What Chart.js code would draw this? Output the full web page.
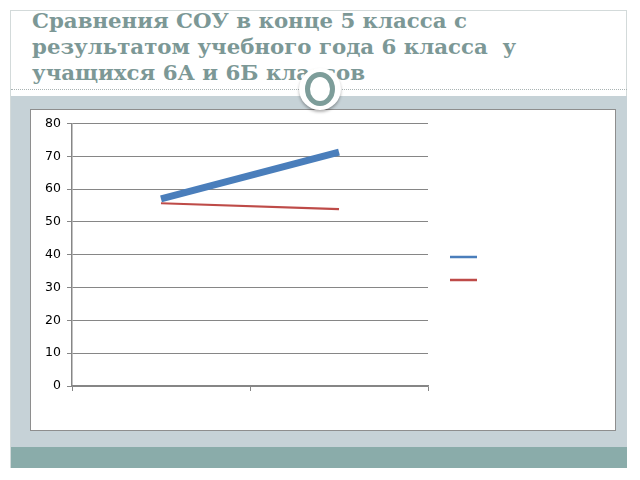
<!DOCTYPE html>
<html>
<head>
<meta charset="utf-8">
<script src="https://cdn.jsdelivr.net/npm/chart.js@4/dist/chart.umd.min.js"></script>
<style>
html,body{margin:0;padding:0;background:#fff;width:640px;height:480px;overflow:hidden;}
#slide{position:absolute;left:10px;top:10px;width:617px;height:458px;border:1px solid #d3dada;box-sizing:border-box;background:#fff;}
#title{position:absolute;left:32px;top:8px;font-family:"DejaVu Serif",serif;font-weight:bold;font-size:21.3px;line-height:26px;color:#7c9896;white-space:pre;}
#dots{position:absolute;left:11px;top:89px;width:616px;border-top:1px dotted #a9b3b3;}
#band{position:absolute;left:11px;top:96px;width:616px;height:351px;background:#c6d2d7;}
#strip{position:absolute;left:11px;top:447px;width:616px;height:21px;background:#8aacaa;}
#box{position:absolute;left:30px;top:109px;width:586px;height:322px;background:#fff;border:1.5px solid #8e8e8e;box-sizing:border-box;}
#box canvas{position:absolute;left:0;top:0;}
#orn{position:absolute;left:299px;top:68px;width:42px;height:42px;border-radius:50%;background:#fff;box-shadow:0 2px 3px rgba(0,0,0,0.3);}
#ring{position:absolute;left:6px;top:4px;width:30px;height:34px;border-radius:50%;border:5px solid #7d9d9a;background:#fff;box-sizing:border-box;}
</style>
</head>
<body>
<div id="slide"></div>
<div id="title">Сравнения СОУ в конце 5 класса с
результатом учебного года 6 класса  у
учащихся 6А и 6Б классов</div>
<div id="dots"></div>
<div id="band"></div>
<div id="strip"></div>
<div id="box"><canvas id="c" width="583" height="319"></canvas></div>
<div id="orn"><div id="ring"></div></div>
<script>
const categories = ["", ""];
const seriesNames = ["", ""];
const series6A = [57, 71.3];
const series6B = [55.7, 53.9];
const yTicks = [0, 10, 20, 30, 40, 50, 60, 70, 80];
const seriesColors = ["#4a7ebb", "#be4b48"];

const legendPlugin = {
  id: "customLegend",
  afterDraw(chart) {
    const ctx = chart.ctx;
    const x0 = 419, x1 = 446;
    const ys = [147, 170];
    chart.data.datasets.forEach((ds, i) => {
      ctx.save();
      ctx.strokeStyle = ds.borderColor;
      ctx.lineWidth = 2.5;
      ctx.beginPath();
      ctx.moveTo(x0, ys[i]);
      ctx.lineTo(x1, ys[i]);
      ctx.stroke();
      ctx.fillStyle = "#000";
      ctx.font = "12px 'DejaVu Sans'";
      ctx.fillText(ds.label, x1 + 6, ys[i] + 4);
      ctx.restore();
    });
  }
};

new Chart(document.getElementById("c"), {
  type: "line",
  data: {
    labels: categories,
    datasets: [
      { label: seriesNames[0], data: series6A, borderColor: seriesColors[0], backgroundColor: seriesColors[0], borderWidth: 7, pointRadius: 0, tension: 0 },
      { label: seriesNames[1], data: series6B, borderColor: seriesColors[1], backgroundColor: seriesColors[1], borderWidth: 2.2, pointRadius: 0, tension: 0 }
    ]
  },
  options: {
    responsive: false,
    animation: false,
    devicePixelRatio: 1,
    layout: { padding: { left: 0, right: 186, top: 12, bottom: 0 } },
    plugins: { legend: { display: false }, tooltip: { enabled: false } },
    scales: {
      x: {
        offset: true,
        grid: { offset: true, drawOnChartArea: false, color: "#868686", tickLength: 5 },
        border: { color: "#868686", width: 1.5 },
        ticks: { display: false },
        afterFit(s) { s.height = 43; }
      },
      y: {
        min: 0, max: 80,
        afterBuildTicks(s) { s.ticks = yTicks.map(v => ({ value: v })); },
        grid: { color: "#868686", tickLength: 5 },
        border: { color: "#868686", width: 1.5 },
        ticks: { color: "#000", font: { family: "'DejaVu Sans'", size: 12.5 }, padding: 6 },
        afterFit(s) { s.width = 41; }
      }
    }
  },
  plugins: [legendPlugin]
});
</script>
</body>
</html>
